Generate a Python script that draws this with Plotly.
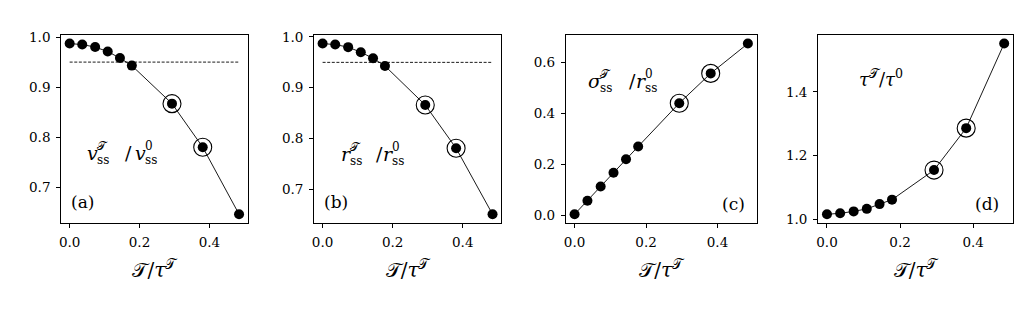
import plotly.graph_objects as go

# ---- data ----
x_vals = [0.0, 0.036, 0.073, 0.109, 0.144, 0.178, 0.293, 0.381, 0.485]
v_ratio = [0.987, 0.985, 0.980, 0.971, 0.958, 0.943, 0.867, 0.780, 0.646]
r_ratio = [0.987, 0.985, 0.980, 0.970, 0.958, 0.943, 0.866, 0.781, 0.651]
sigma_ratio = [0.005, 0.058, 0.114, 0.168, 0.221, 0.271, 0.441, 0.558, 0.675]
tau_ratio = [1.015, 1.018, 1.024, 1.032, 1.047, 1.061, 1.154, 1.286, 1.552]
circled_idx = [6, 7]
threshold = 0.95
panel_letters = ["(a)", "(b)", "(c)", "(d)"]
x_ticks = [0.0, 0.2, 0.4]
y_ticks = [
    [0.7, 0.8, 0.9, 1.0],
    [0.7, 0.8, 0.9, 1.0],
    [0.0, 0.2, 0.4, 0.6],
    [1.0, 1.2, 1.4],
]
series = [v_ratio, r_ratio, sigma_ratio, tau_ratio]

W, H = 1035, 311
FONT = "DejaVu Serif, serif"
# panel pixel boxes (left, right), shared top/bottom
boxes = [(59.3, 246.0), (312.7, 500.0), (565.0, 756.0), (817.7, 1013.0)]
top_px, bot_px = 30.0, 224.0


def pad_range(vals, frac=0.05):
    lo, hi = min(vals), max(vals)
    s = hi - lo
    return [lo - frac * s, hi + frac * s]


fig = go.Figure()
for i, yv in enumerate(series):
    n = i + 1
    xa = "x" if n == 1 else f"x{n}"
    ya = "y" if n == 1 else f"y{n}"
    if i < 2:
        fig.add_trace(go.Scatter(x=[x_vals[0], x_vals[-1]], y=[threshold, threshold],
                                 mode="lines", line=dict(color="black", width=0.9, dash="3px,1.6px"),
                                 xaxis=xa, yaxis=ya, showlegend=False, hoverinfo="skip"))
    fig.add_trace(go.Scatter(x=x_vals, y=yv, mode="lines+markers",
                             line=dict(color="black", width=0.9),
                             marker=dict(color="black", size=10),
                             xaxis=xa, yaxis=ya, showlegend=False))
    fig.add_trace(go.Scatter(x=[x_vals[k] for k in circled_idx], y=[yv[k] for k in circled_idx],
                             mode="markers",
                             marker=dict(symbol="circle-open", color="black", size=18,
                                         line=dict(width=1.1, color="black")),
                             xaxis=xa, yaxis=ya, showlegend=False))
    l, r = boxes[i]
    axis_common = dict(showline=True, linecolor="black", linewidth=1, mirror=True,
                       ticks="outside", ticklen=4, tickwidth=1, tickcolor="black",
                       showgrid=False, zeroline=False, ticklabelstandoff=3,
                       tickfont=dict(family=FONT, size=13.5, color="black"))
    fig.update_layout(**{
        ("xaxis" if n == 1 else f"xaxis{n}"): dict(
            domain=[l / W, r / W], anchor=ya, range=pad_range(x_vals),
            tickvals=x_ticks, ticktext=[f"{t:.1f}" for t in x_ticks],
            title=dict(text="𝒯/<i>τ</i><sup>𝒯</sup>", font=dict(family=FONT, size=20, color="black"),
                       standoff=14),
            **axis_common),
        ("yaxis" if n == 1 else f"yaxis{n}"): dict(
            domain=[1 - bot_px / H, 1 - top_px / H], anchor=xa, range=pad_range(yv),
            tickvals=y_ticks[i], ticktext=[f"{t:.1f}" for t in y_ticks[i]],
            **axis_common),
    })

annotations = []


def ann(n, x, y, text, size, xanchor="left", xshift=0, yshift=0):
    xr = "x domain" if n == 1 else f"x{n} domain"
    yr = "y domain" if n == 1 else f"y{n} domain"
    annotations.append(dict(xref=xr, yref=yr, x=x, y=y, text=text, showarrow=False,
                            xanchor=xanchor, yanchor="middle", xshift=xshift, yshift=yshift,
                            font=dict(family=FONT, size=size, color="black")))


def stacked_label(n, x, y, base1, sup1, base2, sup2, d_script1, d_slash, d_base2, d_script2):
    ann(n, x, y, base1, 19)
    ann(n, x, y, sup1, 12, xshift=d_script1, yshift=7)
    ann(n, x, y, "ss", 12, xshift=d_script1, yshift=-7)
    ann(n, x, y, "/", 19, xshift=d_slash)
    ann(n, x, y, base2, 19, xshift=d_base2)
    ann(n, x, y, sup2, 12, xshift=d_script2, yshift=7)
    ann(n, x, y, "ss", 12, xshift=d_script2, yshift=-7)


def dom(i, px, py):
    l, r = boxes[i]
    return (px - l) / (r - l), (bot_px - py) / (bot_px - top_px)


ax, ay = dom(0, 83.3, 152)
stacked_label(1, ax, ay, "<i>v</i>", "𝒯", "<i>v</i>", "0", 10, 38, 48, 58)
ax, ay = dom(1, 338.0, 153)
stacked_label(2, ax, ay, "<i>r</i>", "𝒯", "<i>r</i>", "0", 9, 35, 42, 51)
ax, ay = dom(2, 585.0, 77)
stacked_label(3, ax, ay, "<i>σ</i>", "𝒯", "<i>r</i>", "0", 12, 41, 48, 57)
ax, ay = dom(3, 856.7, 74)
ann(4, ax, ay, "<i>τ</i><sup>𝒯</sup>/<i>τ</i><sup>0</sup>", 18)

# panel letters
ax, ay = dom(0, 67.5, 203)
ann(1, ax, ay, panel_letters[0], 17)
ax, ay = dom(1, 320.5, 203)
ann(2, ax, ay, panel_letters[1], 17)
ax, ay = dom(2, 746, 205)
ann(3, ax, ay, panel_letters[2], 17, xanchor="right")
ax, ay = dom(3, 1001, 205)
ann(4, ax, ay, panel_letters[3], 17, xanchor="right")

fig.update_layout(width=W, height=H, margin=dict(l=0, r=0, t=0, b=0),
                  paper_bgcolor="white", plot_bgcolor="white",
                  annotations=annotations, showlegend=False)
fig.write_html("out.html")
